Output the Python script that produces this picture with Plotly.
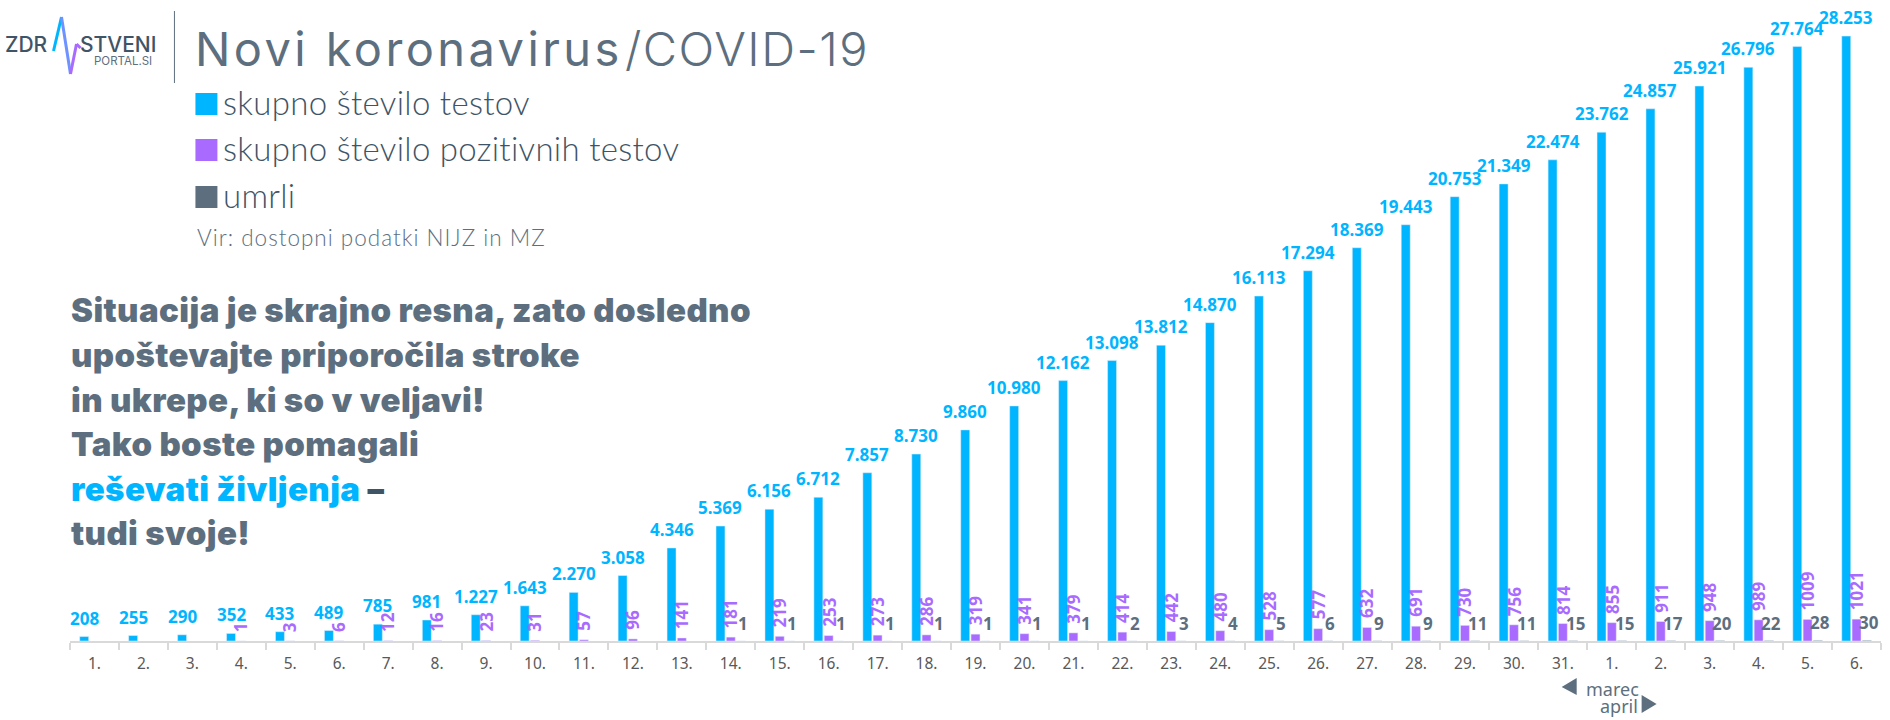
import plotly.graph_objects as go

WIDTH = 1890
HEIGHT = 720
M_LEFT, M_RIGHT, M_TOP, M_BOTTOM = 69.5, 8.5, 20, 79

# dnevi (marec -> april)
day_labels = ["1.", "2.", "3.", "4.", "5.", "6.", "7.", "8.", "9.", "10.", "11.", "12.", "13.", "14.", "15.", "16.",
              "17.", "18.", "19.", "20.", "21.", "22.", "23.", "24.", "25.", "26.", "27.", "28.", "29.", "30.", "31.",
              "1.", "2.", "3.", "4.", "5.", "6."]
tests = [208, 255, 290, 352, 433, 489, 785, 981, 1227, 1643, 2270, 3058, 4346, 5369, 6156, 6712, 7857, 8730, 9860,
         10980, 12162, 13098, 13812, 14870, 16113, 17294, 18369, 19443, 20753, 21349, 22474, 23762, 24857, 25921,
         26796, 27764, 28253]
positive = [None, None, None, 1, 3, 6, 12, 16, 23, 31, 57, 96, 141, 181, 219, 253, 273, 286, 319, 341, 379, 414, 442,
            480, 528, 577, 632, 691, 730, 756, 814, 855, 911, 948, 989, 1009, 1021]
deaths = [None] * 13 + [1, 1, 1, 1, 1, 1, 1, 1, 2, 3, 4, 5, 6, 9, 9, 11, 11, 15, 15, 17, 20, 22, 28, 30]

BLUE = "#00B5FF"
PURPLE = "#A96BFF"
GREY = "#5D6F7E"
DARK = "#3F5466"

legend_items = [("skupno število testov", BLUE), ("skupno število pozitivnih testov", PURPLE), ("umrli", GREY)]
message_lines = ["Situacija je skrajno resna, zato dosledno", "upoštevajte priporočila stroke",
                 "in ukrepe, ki so v veljavi!", "Tako boste pomagali", None, "tudi svoje!"]


def px(x):
    # piksli slike -> paper koordinate (paper je samo obmocje grafa)
    return (x - M_LEFT) / (WIDTH - M_LEFT - M_RIGHT)


def py(y):
    return 1 - (y - M_TOP) / (HEIGHT - M_TOP - M_BOTTOM)


def note(text, x, y, size, color, family="Lato", weight=400, spacing=0):
    if spacing:
        text = f'<span style="letter-spacing:{spacing}px">{text}</span>'
    fig.add_annotation(text=text, xref="paper", yref="paper", x=px(x), y=py(y), xanchor="left", yanchor="middle",
                       showarrow=False, borderpad=0, font=dict(family=family, size=size, color=color, weight=weight))


xs = list(range(len(day_labels)))
bar_font = dict(family="Noto Sans", size=17, weight=700)

fig = go.Figure()
fig.add_trace(go.Bar(x=xs, y=tests, marker_color=BLUE, name="skupno število testov", cliponaxis=False))
fig.add_trace(go.Bar(x=xs, y=positive, marker_color=PURPLE, name="skupno število pozitivnih testov", cliponaxis=False))
fig.add_trace(go.Bar(x=xs, y=deaths, marker_color=GREY, name="umrli", cliponaxis=False))

fig.update_layout(
    width=WIDTH, height=HEIGHT, autosize=False,
    margin=dict(l=M_LEFT, r=M_RIGHT, t=M_TOP, b=M_BOTTOM),
    plot_bgcolor="white", paper_bgcolor="white",
    barmode="group", bargap=0.37, bargroupgap=0.13,
    showlegend=False,
    xaxis=dict(range=[-0.5, len(xs) - 0.5], tickmode="array", tickvals=xs, ticktext=day_labels, ticklabelstandoff=8,
               tickfont=dict(family="Noto Sans", size=15.5, color="#595959"),
               showline=True, linecolor="#D9D9D9", linewidth=1.5, showgrid=False, zeroline=False,
               minor=dict(tickmode="array", tickvals=[i - 0.5 for i in range(len(xs) + 1)], ticks="outside",
                          ticklen=7, tickcolor="#D9D9D9", tickwidth=1.5, showgrid=False)),
    yaxis=dict(range=[0, 29005], visible=False, fixedrange=True),
)

# oznake stolpcev: (vrednosti, barva, zamik stolpca, kot, odmik v px, zamik x v px)
label_series = [(tests, BLUE, -0.21, 0, 5, 0), (positive, PURPLE, 0, -90, 7, 0), (deaths, GREY, 0.21, 0, 4, 2)]
for values, color, offset, angle, yshift, xshift in label_series:
    for x, v in zip(xs, values):
        if v is None:
            continue
        # skupno stevilo testov ima pike za tisocice, ostali brez
        label = f"{v:,}".replace(",", ".") if values is tests else str(v)
        fig.add_annotation(x=x + offset, y=v, text=label, showarrow=False, yanchor="bottom", textangle=angle,
                           yshift=yshift, xshift=xshift, font=dict(color=color, **bar_font))

# glava
note("Novi koronavirus", 194, 49, 47, GREY, family="Inter", weight=400, spacing=3.4)
note("/COVID-19", 624, 49, 47, GREY, family="Inter", weight=300, spacing=1.5)

for (label, color), y in zip(legend_items, [104, 150, 197]):
    fig.add_shape(type="rect", xref="paper", yref="paper", x0=px(195), x1=px(217), y0=py(y - 11), y1=py(y + 11),
                  fillcolor=color, line_width=0)
    note(label, 222, y - 2, 33, DARK, weight=300, spacing=0.3)
note("Vir: dostopni podatki NIJZ in MZ", 196, 237, 22.5, GREY, weight=300, spacing=1)

for line, y in zip(message_lines, [310, 355, 400, 444, 489, 533]):
    if line is not None:
        note(line, 70, y, 33, GREY, family="Inter", weight=900, spacing=0.4)
note(f'<span style="color:{BLUE}">reševati življenja</span> –', 70, 489, 33, DARK, family="Inter", weight=900,
     spacing=0.4)

# logotip
fig.add_shape(type="line", xref="paper", yref="paper", x0=px(174), x1=px(174), y0=py(11), y1=py(83),
              line=dict(color="#5D6F7E", width=1))
note("ZDR", 3, 45, 21, DARK, family="Inter", weight=500)
note("STVENI", 79, 45, 21, DARK, family="Inter", weight=500)
note("PORTAL.SI", 93, 61, 11.5, GREY, family="Inter", weight=400)
pulse = [(53, 51), (61, 17), (70, 74), (76, 44), (80, 48)]
pulse_colors = [BLUE, "#6E92FF", PURPLE, PURPLE]
for (x0, y0), (x1, y1), c in zip(pulse[:-1], pulse[1:], pulse_colors):
    fig.add_shape(type="line", xref="paper", yref="paper", x0=px(x0), x1=px(x1), y0=py(y0), y1=py(y1),
                  line=dict(color=c, width=3))

# marec / april
note("marec", 1585, 689, 18, GREY, family="Noto Sans")
note("april", 1599, 706, 18, GREY, family="Noto Sans")
fig.add_shape(type="path", xref="paper", yref="paper", fillcolor=GREY, line_width=0,
              path=f"M {px(1577)} {py(678)} L {px(1562)} {py(687)} L {px(1577)} {py(695)} Z")
fig.add_shape(type="path", xref="paper", yref="paper", fillcolor=GREY, line_width=0,
              path=f"M {px(1642)} {py(695)} L {px(1657)} {py(704)} L {px(1642)} {py(713)} Z")

fig.write_html("out.html", config={"displayModeBar": False}, post_script="document.body.style.margin = '0';")
